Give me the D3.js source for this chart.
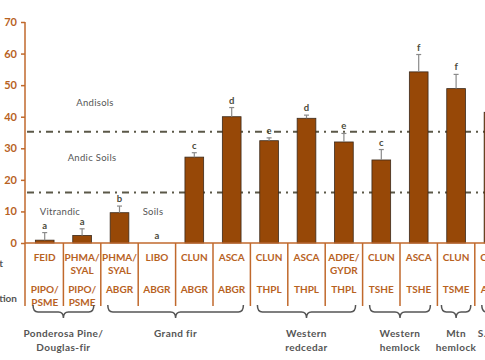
<!DOCTYPE html>
<html><head><meta charset="utf-8">
<script src="https://cdn.jsdelivr.net/npm/d3@7"></script>
<style>body{margin:0;background:#fff;}svg{display:block;font-family:Lato,"Open Sans",sans-serif;}</style>
</head><body><svg id="c" width="485" height="360"></svg>
<script>
const shrubs = ["FEID","PHMA/SYAL","PHMA/SYAL","LIBO","CLUN","ASCA","CLUN","ASCA","ADPE/GYDR","CLUN","ASCA","CLUN","CLUN"];
const series = ["PIPO/PSME","PIPO/PSME","ABGR","ABGR","ABGR","ABGR","THPL","THPL","THPL","TSHE","TSHE","TSME","ABLA"];
const values = [0.9, 2.4, 9.6, 0, 27.2, 40.0, 32.4, 39.5, 32.0, 26.3, 54.2, 48.9, 41.4];
const errTop = [3.3, 4.5, 11.7, 0, 28.6, 42.9, 33.3, 40.5, 34.7, 29.6, 59.7, 53.4, 44.0];
const letters = ["a","a","b","a","c","d","e","d","e","c","f","f",""];
const yTicks = [0,10,20,30,40,50,60,70];
const thresholds = [16, 35.2];
const zoneLabels = [{t:"Andisols", v:44.5, x:95},{t:"Andic Soils", v:27, x:92},{t:"Vitrandic", v:9.8, x:60},{t:"Soils", v:9.8, x:153}];
const groups = [
  {lines:["Ponderosa Pine/","Douglas-fir"], from:0, to:1},
  {lines:["Grand fir"], from:2, to:5},
  {lines:["Western","redcedar"], from:6, to:8},
  {lines:["Western","hemlock"], from:9, to:10},
  {lines:["Mtn","hemlock"], from:11, to:11},
  {lines:["S. Alpine fir"], from:12, to:13}
];

const W = 485;
const svg = d3.select("#c");
const x = d3.scaleBand().domain(d3.range(14)).range([26, 26 + 14*37.4]).padding(0);
const y = d3.scaleLinear().domain([0,70]).range([243,22]);
const bw = x.bandwidth()*0.5;
const brown = "#974807", lineC = "#c0692c", txtC = "#b8621f", gray = "#5b5848";

// threshold lines
svg.selectAll("line.th").data(thresholds).join("line")
  .attr("x1",27).attr("x2",W).attr("y1",d=>y(d)).attr("y2",d=>y(d))
  .attr("stroke",gray).attr("stroke-width",2).attr("stroke-dasharray","7,5,2,5");

// zone labels
svg.selectAll("text.z").data(zoneLabels).join("text")
  .attr("x",d=>d.x).attr("y",d=>y(d.v)).attr("dy","0.35em").attr("text-anchor","middle")
  .attr("font-size",9.5).attr("letter-spacing",0.3).attr("fill","#555").text(d=>d.t);

// bars
const idx = d3.range(values.length);
svg.selectAll("rect.bar").data(idx.filter(i=>values[i]>0)).join("rect")
  .attr("x",i=>x(i)+(x.bandwidth()-bw)/2).attr("width",bw)
  .attr("y",i=>y(values[i])).attr("height",i=>y(0)-y(values[i]))
  .attr("fill",brown).attr("stroke","#3b2a1c").attr("stroke-width",0.8);

// error bars
const eb = svg.selectAll("g.eb").data(idx.filter(i=>errTop[i]>values[i])).join("g");
eb.append("line").attr("x1",i=>x(i)+x.bandwidth()/2).attr("x2",i=>x(i)+x.bandwidth()/2)
  .attr("y1",i=>y(values[i])).attr("y2",i=>y(errTop[i])).attr("stroke","#8a8a8a").attr("stroke-width",1.2);
eb.append("line").attr("x1",i=>x(i)+x.bandwidth()/2-2.5).attr("x2",i=>x(i)+x.bandwidth()/2+2.5)
  .attr("y1",i=>y(errTop[i])).attr("y2",i=>y(errTop[i])).attr("stroke","#8a8a8a").attr("stroke-width",1.2);

// letters
svg.selectAll("text.let").data(idx).join("text")
  .attr("x",i=>x(i)+x.bandwidth()/2).attr("y",i=>y(Math.max(errTop[i],values[i]))-4)
  .attr("text-anchor","middle").attr("font-size",9.5).attr("font-weight","bold").attr("fill","#4a4a3a")
  .text(i=>letters[i]);

// y axis
const yAxis = svg.append("g").attr("transform","translate(25,0)")
  .call(d3.axisLeft(y).tickValues(yTicks).tickSize(4).tickFormat(d3.format("d")));
yAxis.select(".domain").remove();
yAxis.selectAll("line").attr("stroke",lineC).attr("stroke-width",1.5);
yAxis.selectAll("text").attr("fill",txtC).attr("font-size",11).attr("font-weight","bold")
  .attr("font-family","Lato,sans-serif").attr("x",-8);
svg.append("line").attr("x1",25).attr("x2",25).attr("y1",y(70)).attr("y2",306).attr("stroke",lineC).attr("stroke-width",1.5);

// table
svg.append("line").attr("x1",25).attr("x2",W).attr("y1",y(0)).attr("y2",y(0)).attr("stroke",lineC).attr("stroke-width",1.5);
svg.selectAll("line.vd").data(d3.range(1,14)).join("line")
  .attr("x1",i=>x(i)).attr("x2",i=>x(i)).attr("y1",y(0)).attr("y2",306)
  .attr("stroke",lineC).attr("stroke-width",1.5);

function multiLine(sel, arr, y0, lh){
  sel.each(function(i){
    const parts = arr[i].includes("/") ? arr[i].split("/").map((s,k,a)=>k<a.length-1?s+"/":s) : [arr[i]];
    d3.select(this).selectAll("tspan").data(parts).join("tspan")
      .attr("x",x(i)+x.bandwidth()/2).attr("y",(d,k)=>y0+k*lh).text(d=>d);
  });
}
const r1 = svg.selectAll("text.r1").data(idx).join("text")
  .attr("text-anchor","middle").attr("font-size",10).attr("font-weight","bold").attr("fill",txtC)
  .attr("dominant-baseline","central");
multiLine(r1, shrubs, 256.5, 13);
const r2 = svg.selectAll("text.r2").data(idx).join("text")
  .attr("text-anchor","middle").attr("font-size",10).attr("font-weight","bold").attr("fill",txtC)
  .attr("dominant-baseline","central");
multiLine(r2, series, 288.5, 13);

// row headers (cropped at left)
svg.append("text").attr("x",3).attr("y",262.5).attr("text-anchor","end").attr("dominant-baseline","central")
  .attr("font-size",10).attr("font-weight","bold").attr("fill","#555").text("Understory Plant");
svg.append("text").attr("x",17).attr("y",298).attr("text-anchor","end").attr("dominant-baseline","central")
  .attr("font-size",10).attr("font-weight","bold").attr("fill","#555").text("Association");

// braces
groups.forEach(g=>{
  const single = g.from===g.to;
  const ins = single ? 4 : 7;
  const x0 = x(g.from)+ins, x1 = x(g.to)+x.bandwidth()-ins, xm = (x(g.from)+x(g.to)+x.bandwidth())/2;
  const yt = 305, yb = 312, ytip = 318, r = 5;
  const p = `M${x0},${yt} Q${x0},${yb} ${x0+r},${yb} L${xm-r},${yb} Q${xm},${yb} ${xm},${ytip} Q${xm},${yb} ${xm+r},${yb} L${x1-r},${yb} Q${x1},${yb} ${x1},${yt}`;
  svg.append("path").attr("d",p).attr("fill","none").attr("stroke","#555").attr("stroke-width",1.5);
  const offEdge = xm > W;
  const tx = offEdge ? x(g.from)+3 : xm;
  const t = svg.append("text").attr("text-anchor",offEdge?"start":"middle").attr("font-size",10).attr("font-weight","bold")
    .attr("fill","#555").attr("dominant-baseline","central").attr("letter-spacing",0.4);
  t.selectAll("tspan").data(g.lines).join("tspan").attr("x",tx).attr("y",(d,k)=>333+k*14).text(d=>d);
});
</script></body></html>
